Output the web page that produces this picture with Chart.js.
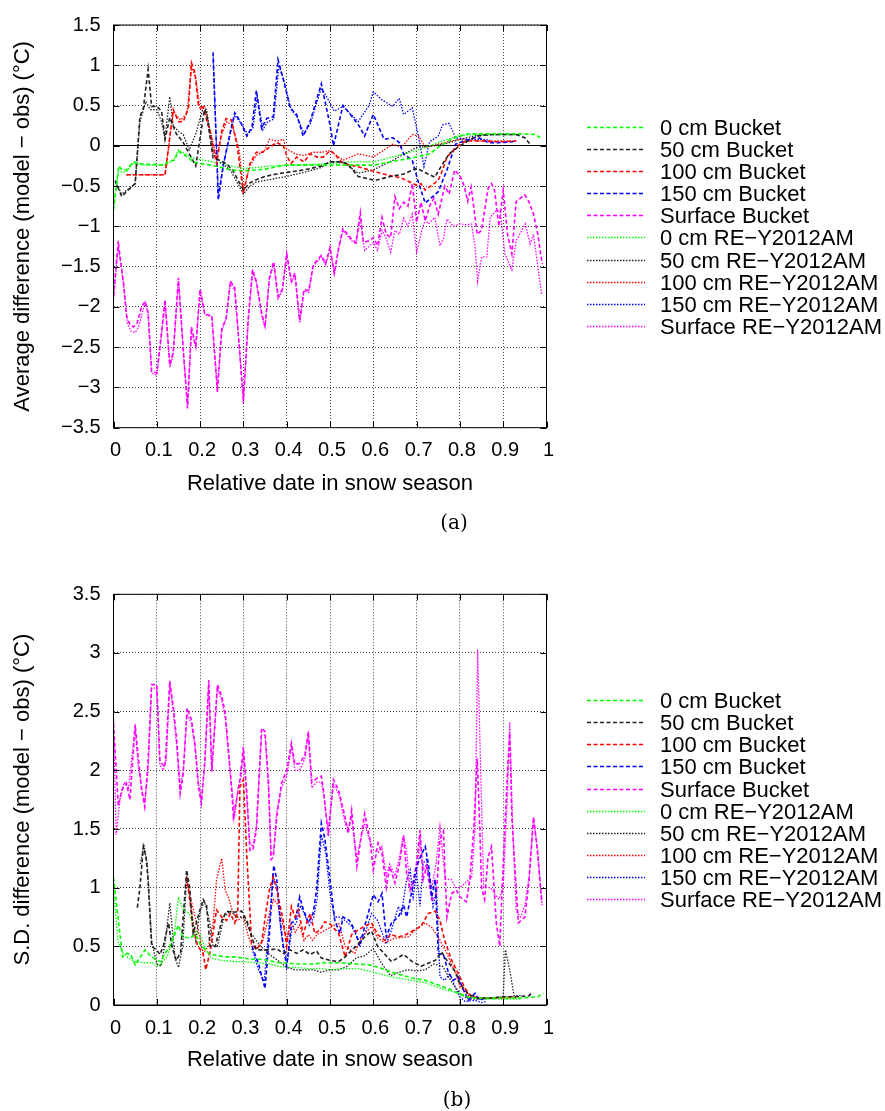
<!DOCTYPE html>
<html><head><meta charset="utf-8">
<script src="https://cdn.jsdelivr.net/npm/chart.js@4.4.0/dist/chart.umd.min.js"></script>
<style>
body{margin:0;width:885px;height:1111px;position:relative;background:#fff;overflow:hidden}
canvas{position:absolute;left:0}
#c1{top:0}
#c2{top:540px}
.cap{position:absolute;font-family:"DejaVu Serif","Liberation Serif",serif;font-size:20px;transform:translate(-50%,-50%);color:#000}
</style></head><body>
<canvas id="c1" width="885" height="540" style="width:885px;height:540px"></canvas>
<canvas id="c2" width="885" height="571" style="width:885px;height:571px"></canvas>
<div class="cap" style="left:454px;top:522px">(a)</div>
<div class="cap" style="left:457px;top:1099px">(b)</div>
<script>
// ---------- labels / axes ----------
const SERIES_LABELS = ['0 cm Bucket','50 cm Bucket','100 cm Bucket','150 cm Bucket','Surface Bucket',
  '0 cm RE\u2212Y2012AM','50 cm RE\u2212Y2012AM','100 cm RE\u2212Y2012AM','150 cm RE\u2212Y2012AM','Surface RE\u2212Y2012AM'];
const X_TITLE = 'Relative date in snow season';
const A_Y_TITLE = 'Average difference (model \u2212 obs) (\u00B0C)';
const B_Y_TITLE = 'S.D. difference (model \u2212 obs) (\u00B0C)';
const X_RANGE = [0, 1, 0.1];
const A_Y_RANGE = [-3.5, 1.5, 0.5];
const B_Y_RANGE = [0, 3.5, 0.5];

// ---------- panel (a): average difference ----------
const a_g0B = [[0,-0.8],[0.012,-0.25],[0.02,-0.3],[0.03,-0.3],[0.045,-0.2],[0.07,-0.23],[0.1,-0.23],[0.115,-0.24],[0.127,-0.19],[0.14,-0.18],[0.15,-0.07],[0.16,-0.1],[0.17,-0.14],[0.185,-0.2],[0.2,-0.22],[0.225,-0.24],[0.25,-0.27],[0.27,-0.3],[0.3,-0.31],[0.33,-0.3],[0.35,-0.29],[0.377,-0.26],[0.4,-0.24],[0.44,-0.24],[0.48,-0.24],[0.52,-0.24],[0.56,-0.24],[0.6,-0.24],[0.64,-0.2],[0.7,-0.14],[0.73,-0.1],[0.755,0],[0.78,0.08],[0.8,0.12],[0.82,0.15],[0.86,0.15],[0.9,0.15],[0.94,0.15],[0.975,0.14],[0.985,0.1]];
const a_k50B = [[0.004,-0.43],[0.019,-0.63],[0.03,-0.57],[0.05,-0.47],[0.061,0.36],[0.069,0.47],[0.08,0.95],[0.088,0.49],[0.1,0.49],[0.111,0.43],[0.119,0.08],[0.13,0.35],[0.145,0.15],[0.16,0.05],[0.175,-0.1],[0.19,-0.25],[0.2,0.1],[0.21,0.45],[0.215,0.4],[0.23,-0.15],[0.245,-0.18],[0.26,-0.22],[0.275,-0.3],[0.3,-0.55],[0.315,-0.46],[0.33,-0.42],[0.35,-0.38],[0.377,-0.35],[0.4,-0.33],[0.44,-0.3],[0.48,-0.25],[0.5,-0.2],[0.52,-0.2],[0.54,-0.22],[0.565,-0.38],[0.604,-0.43],[0.64,-0.38],[0.67,-0.35],[0.7,-0.28],[0.742,-0.39],[0.755,-0.27],[0.775,-0.1],[0.8,0],[0.838,0.12],[0.87,0.14],[0.93,0.14],[0.95,0.1],[0.965,0.0]];
const a_r100B = [[0.03,-0.36],[0.06,-0.36],[0.09,-0.36],[0.119,-0.36],[0.138,0.45],[0.15,0.3],[0.161,0.3],[0.173,0.47],[0.18,1.03],[0.188,0.91],[0.196,0.51],[0.207,0.47],[0.223,0.18],[0.238,-0.22],[0.25,0.18],[0.26,0.34],[0.272,0.32],[0.285,0.02],[0.3,-0.59],[0.315,-0.22],[0.33,-0.08],[0.345,-0.08],[0.36,-0.02],[0.377,0.04],[0.392,0.0],[0.4,-0.12],[0.41,-0.22],[0.423,-0.14],[0.44,-0.2],[0.454,-0.1],[0.47,-0.14],[0.485,-0.14],[0.5,-0.06],[0.51,-0.1],[0.53,-0.22],[0.565,-0.26],[0.59,-0.3],[0.63,-0.36],[0.665,-0.4],[0.7,-0.49],[0.71,-0.47],[0.72,-0.55],[0.75,-0.43],[0.76,-0.3],[0.77,-0.14],[0.8,0.02],[0.815,0.06],[0.85,0.06],[0.88,0.05],[0.9,0.05],[0.93,0.06]];
const a_b150B = [[0.23,1.16],[0.242,-0.67],[0.253,-0.26],[0.27,0.18],[0.28,0.41],[0.293,0.3],[0.308,0.12],[0.32,0.24],[0.33,0.69],[0.342,0.22],[0.354,0.34],[0.369,0.36],[0.38,1.07],[0.392,0.83],[0.408,0.47],[0.423,0.39],[0.438,0.12],[0.454,0.3],[0.48,0.77],[0.5,0.26],[0.508,0.0],[0.53,0.5],[0.55,0.37],[0.568,0.24],[0.58,0.12],[0.6,0.39],[0.625,0.08],[0.645,0.1],[0.66,0.04],[0.67,-0.1],[0.69,-0.18],[0.705,-0.47],[0.72,-0.71],[0.75,-0.57],[0.77,-0.3],[0.79,0.02],[0.81,0.06],[0.84,0.11],[0.865,0.04],[0.89,0.04],[0.92,0.05],[0.93,0.06]];
const a_mSB = [[0,-1.87],[0.011,-1.18],[0.016,-1.42],[0.023,-1.7],[0.03,-2.11],[0.038,-2.22],[0.046,-2.25],[0.054,-2.21],[0.065,-2.0],[0.073,-1.93],[0.08,-2.07],[0.088,-2.8],[0.1,-2.82],[0.111,-2.31],[0.119,-1.91],[0.13,-2.72],[0.138,-2.56],[0.15,-1.64],[0.161,-2.52],[0.171,-3.26],[0.18,-2.25],[0.19,-2.49],[0.2,-1.78],[0.211,-2.09],[0.227,-2.11],[0.24,-3.06],[0.25,-2.27],[0.26,-2.15],[0.27,-1.68],[0.28,-1.76],[0.292,-2.6],[0.3,-3.16],[0.311,-2.15],[0.321,-1.54],[0.33,-1.68],[0.342,-2.07],[0.35,-2.25],[0.36,-1.64],[0.37,-1.44],[0.38,-1.87],[0.39,-1.78],[0.4,-1.34],[0.411,-1.68],[0.419,-1.58],[0.43,-2.17],[0.44,-1.78],[0.451,-1.8],[0.461,-1.48],[0.48,-1.36],[0.49,-1.46],[0.5,-1.26],[0.51,-1.58],[0.52,-1.26],[0.53,-1.03],[0.55,-1.16],[0.56,-1.2],[0.57,-0.83],[0.577,-1.2],[0.59,-1.18],[0.6,-1.14],[0.61,-1.24],[0.62,-0.89],[0.63,-1.1],[0.64,-1.14],[0.65,-0.63],[0.66,-0.78],[0.67,-0.7],[0.68,-0.75],[0.69,-0.47],[0.7,-0.95],[0.71,-0.7],[0.72,-0.93],[0.73,-0.75],[0.74,-0.65],[0.75,-0.85],[0.765,-0.5],[0.775,-0.6],[0.788,-0.3],[0.8,-0.37],[0.81,-0.5],[0.818,-0.69],[0.826,-0.51],[0.84,-1.1],[0.85,-1.05],[0.865,-0.53],[0.873,-0.47],[0.88,-0.55],[0.89,-1.0],[0.9,-0.55],[0.91,-1.1],[0.92,-1.34],[0.93,-0.69],[0.95,-0.61],[0.96,-0.7],[0.97,-0.85],[0.98,-1.1],[0.99,-1.47]];
const a_g0R = [[0,-0.75],[0.012,-0.3],[0.02,-0.33],[0.03,-0.32],[0.045,-0.22],[0.07,-0.24],[0.1,-0.24],[0.12,-0.24],[0.14,-0.17],[0.15,-0.05],[0.16,-0.08],[0.18,-0.15],[0.2,-0.17],[0.23,-0.2],[0.25,-0.22],[0.27,-0.25],[0.3,-0.28],[0.33,-0.27],[0.36,-0.25],[0.4,-0.24],[0.45,-0.23],[0.5,-0.22],[0.55,-0.2],[0.6,-0.2],[0.65,-0.13],[0.7,-0.06],[0.73,0.0],[0.76,0.06],[0.8,0.13],[0.84,0.14],[0.9,0.14],[0.94,0.14]];
const a_k50R = [[0.004,-0.45],[0.019,-0.6],[0.038,-0.52],[0.05,-0.47],[0.061,0.3],[0.075,0.55],[0.085,0.45],[0.1,0.45],[0.111,0.3],[0.119,0.1],[0.13,0.61],[0.138,0.25],[0.15,0.18],[0.161,0.14],[0.175,-0.05],[0.19,0.15],[0.207,0.47],[0.215,0.45],[0.23,-0.1],[0.25,-0.22],[0.27,-0.3],[0.3,-0.6],[0.315,-0.5],[0.33,-0.45],[0.36,-0.42],[0.4,-0.38],[0.44,-0.33],[0.48,-0.27],[0.5,-0.2],[0.53,-0.2],[0.565,-0.34],[0.6,-0.3],[0.645,-0.18],[0.7,-0.02],[0.74,0.0],[0.77,0.03],[0.8,0.08],[0.84,0.13],[0.9,0.14],[0.94,0.14]];
const a_r100R = [[0.03,-0.36],[0.119,-0.36],[0.138,0.42],[0.155,0.32],[0.17,0.4],[0.18,0.98],[0.19,0.85],[0.2,0.45],[0.21,0.5],[0.225,0.15],[0.238,-0.15],[0.25,0.15],[0.262,0.3],[0.275,0.25],[0.29,-0.05],[0.3,-0.55],[0.315,-0.25],[0.33,-0.12],[0.35,-0.05],[0.36,0.08],[0.377,0.06],[0.392,0.08],[0.4,-0.04],[0.42,-0.1],[0.44,-0.12],[0.46,-0.08],[0.48,-0.08],[0.5,-0.06],[0.53,-0.18],[0.565,-0.1],[0.6,-0.14],[0.645,0.02],[0.665,-0.02],[0.69,0.14],[0.705,0.12],[0.72,-0.02],[0.75,0.02],[0.78,0.06],[0.8,0.08],[0.85,0.06],[0.9,0.06],[0.93,0.06]];
const a_b150R = [[0.23,1.1],[0.242,-0.6],[0.255,-0.2],[0.27,0.15],[0.28,0.38],[0.295,0.28],[0.31,0.14],[0.322,0.22],[0.332,0.62],[0.345,0.2],[0.356,0.3],[0.37,0.33],[0.382,1.0],[0.395,0.78],[0.41,0.45],[0.425,0.35],[0.44,0.15],[0.455,0.28],[0.48,0.72],[0.49,0.63],[0.51,0.43],[0.53,0.49],[0.565,0.3],[0.59,0.5],[0.6,0.67],[0.62,0.57],[0.645,0.49],[0.66,0.59],[0.67,0.39],[0.69,0.47],[0.705,0.1],[0.717,-0.26],[0.73,0.05],[0.75,0.12],[0.76,0.26],[0.775,0.28],[0.79,0.1],[0.82,0.08],[0.85,0.08],[0.87,0.07]];
const a_mSR = [[0,-1.9],[0.011,-1.25],[0.018,-1.5],[0.025,-1.8],[0.032,-2.2],[0.04,-2.3],[0.05,-2.32],[0.058,-2.25],[0.073,-1.95],[0.08,-2.1],[0.088,-2.82],[0.1,-2.85],[0.111,-2.35],[0.119,-1.95],[0.13,-2.75],[0.138,-2.6],[0.15,-1.67],[0.161,-2.55],[0.171,-3.22],[0.18,-2.3],[0.19,-2.5],[0.2,-1.8],[0.211,-2.1],[0.227,-2.12],[0.24,-3.0],[0.25,-2.3],[0.26,-2.15],[0.27,-1.7],[0.28,-1.8],[0.292,-2.6],[0.3,-3.2],[0.311,-2.2],[0.321,-1.56],[0.33,-1.7],[0.342,-2.1],[0.35,-2.25],[0.36,-1.66],[0.37,-1.46],[0.38,-1.9],[0.39,-1.8],[0.4,-1.36],[0.411,-1.7],[0.419,-1.6],[0.43,-2.2],[0.44,-1.8],[0.451,-1.82],[0.461,-1.5],[0.48,-1.38],[0.49,-1.48],[0.5,-1.28],[0.51,-1.6],[0.52,-1.28],[0.53,-1.05],[0.55,-1.18],[0.56,-1.22],[0.57,-0.9],[0.58,-1.3],[0.6,-1.2],[0.61,-1.3],[0.62,-1.05],[0.63,-1.15],[0.64,-1.32],[0.65,-1.05],[0.66,-1.1],[0.67,-0.9],[0.68,-1.0],[0.69,-0.85],[0.7,-1.32],[0.712,-1.05],[0.72,-0.92],[0.727,-0.97],[0.742,-0.89],[0.754,-1.24],[0.762,-1.15],[0.77,-0.91],[0.785,-1.0],[0.8,-0.97],[0.815,-0.98],[0.827,-0.97],[0.835,-1.26],[0.841,-1.68],[0.85,-1.38],[0.862,-1.38],[0.87,-0.89],[0.882,-0.81],[0.893,-0.81],[0.904,-1.34],[0.92,-1.54],[0.93,-1.18],[0.951,-0.97],[0.962,-1.22],[0.97,-1.1],[0.981,-1.54],[0.989,-1.85]];

// ---------- panel (b): S.D. difference ----------
const b_g0B = [[0,1.09],[0.011,0.73],[0.021,0.41],[0.03,0.44],[0.04,0.43],[0.05,0.34],[0.06,0.4],[0.073,0.47],[0.085,0.42],[0.1,0.38],[0.11,0.37],[0.119,0.44],[0.13,0.5],[0.15,0.68],[0.16,0.58],[0.175,0.57],[0.19,0.6],[0.2,0.52],[0.22,0.44],[0.24,0.42],[0.26,0.41],[0.28,0.41],[0.3,0.4],[0.32,0.39],[0.34,0.39],[0.36,0.38],[0.38,0.36],[0.4,0.36],[0.42,0.35],[0.44,0.35],[0.46,0.35],[0.488,0.36],[0.52,0.36],[0.56,0.35],[0.596,0.34],[0.62,0.31],[0.642,0.28],[0.69,0.23],[0.72,0.21],[0.75,0.17],[0.78,0.13],[0.8,0.09],[0.827,0.06],[0.86,0.06],[0.9,0.06],[0.94,0.06],[0.98,0.07],[0.993,0.1]];
const b_k50B = [[0.055,0.83],[0.061,1.0],[0.069,1.35],[0.075,1.26],[0.08,1.06],[0.088,0.5],[0.1,0.47],[0.107,0.43],[0.115,0.5],[0.127,0.7],[0.135,0.5],[0.145,0.38],[0.155,0.45],[0.169,1.15],[0.176,1.0],[0.184,0.61],[0.195,0.75],[0.207,0.9],[0.215,0.85],[0.223,0.5],[0.235,0.5],[0.25,0.72],[0.261,0.8],[0.275,0.79],[0.296,0.8],[0.308,0.72],[0.319,0.58],[0.33,0.47],[0.345,0.47],[0.361,0.47],[0.377,0.48],[0.392,0.44],[0.408,0.47],[0.423,0.44],[0.438,0.47],[0.454,0.43],[0.469,0.46],[0.48,0.4],[0.5,0.38],[0.52,0.37],[0.535,0.41],[0.56,0.5],[0.58,0.58],[0.596,0.63],[0.61,0.5],[0.642,0.37],[0.67,0.43],[0.69,0.37],[0.71,0.33],[0.743,0.38],[0.758,0.45],[0.77,0.38],[0.79,0.28],[0.8,0.18],[0.82,0.09],[0.84,0.06],[0.87,0.06],[0.9,0.07],[0.93,0.07],[0.96,0.08],[0.965,0.1]];
const b_r100B = [[0.169,1.09],[0.176,0.9],[0.184,0.65],[0.195,0.5],[0.207,0.44],[0.213,0.3],[0.223,0.45],[0.238,0.81],[0.25,0.75],[0.261,0.72],[0.27,0.78],[0.28,0.7],[0.287,0.8],[0.292,1.86],[0.3,1.92],[0.308,1.26],[0.319,0.53],[0.33,0.47],[0.342,0.53],[0.354,0.84],[0.361,1.0],[0.369,1.09],[0.377,0.98],[0.392,0.72],[0.4,0.5],[0.411,0.84],[0.419,0.75],[0.427,0.81],[0.438,0.6],[0.446,0.7],[0.454,0.78],[0.465,0.61],[0.477,0.64],[0.488,0.71],[0.5,0.69],[0.52,0.61],[0.535,0.41],[0.55,0.6],[0.565,0.64],[0.58,0.67],[0.596,0.7],[0.61,0.6],[0.627,0.55],[0.64,0.6],[0.658,0.58],[0.675,0.6],[0.69,0.63],[0.71,0.67],[0.727,0.78],[0.743,0.8],[0.754,0.72],[0.765,0.55],[0.781,0.38],[0.796,0.27],[0.812,0.14],[0.827,0.07],[0.85,0.06],[0.873,0.06],[0.9,0.06],[0.92,0.07],[0.93,0.06]];
const b_b150B = [[0.32,0.5],[0.335,0.35],[0.35,0.14],[0.36,0.6],[0.37,1.19],[0.377,1.07],[0.385,0.72],[0.392,0.5],[0.4,0.33],[0.411,0.7],[0.42,0.72],[0.43,0.92],[0.438,0.82],[0.45,0.7],[0.461,0.78],[0.469,0.98],[0.48,1.55],[0.488,1.42],[0.5,1.07],[0.511,0.72],[0.523,0.61],[0.53,0.75],[0.545,0.72],[0.557,0.64],[0.569,0.5],[0.58,0.67],[0.6,0.94],[0.611,0.88],[0.62,0.95],[0.63,0.58],[0.642,0.7],[0.658,0.75],[0.67,0.85],[0.677,0.75],[0.688,0.95],[0.7,1.18],[0.712,1.29],[0.72,1.35],[0.728,1.18],[0.735,0.92],[0.743,1.07],[0.75,0.44],[0.762,0.43],[0.774,0.27],[0.785,0.21],[0.796,0.24],[0.808,0.13],[0.82,0.04],[0.835,0.1],[0.845,0.04],[0.858,0.06]];
const b_mSB = [[0,2.4],[0.011,1.7],[0.019,1.83],[0.03,1.89],[0.038,1.75],[0.05,2.39],[0.057,2.12],[0.065,1.83],[0.072,1.69],[0.08,2.09],[0.088,2.73],[0.1,2.73],[0.107,2.09],[0.111,2.06],[0.119,2.03],[0.13,2.76],[0.138,2.54],[0.146,2.26],[0.154,1.8],[0.161,1.97],[0.17,2.53],[0.18,2.43],[0.188,2.23],[0.196,1.86],[0.203,1.72],[0.211,2.09],[0.22,2.77],[0.227,1.99],[0.24,2.73],[0.25,2.63],[0.258,2.49],[0.265,2.2],[0.273,1.83],[0.277,1.6],[0.288,1.83],[0.292,1.92],[0.3,2.2],[0.308,1.8],[0.315,1.32],[0.322,1.32],[0.33,1.49],[0.342,2.36],[0.35,2.33],[0.358,1.9],[0.364,1.24],[0.369,1.26],[0.377,1.6],[0.388,1.89],[0.4,2.0],[0.411,2.23],[0.419,2.05],[0.43,2.06],[0.442,2.13],[0.45,2.33],[0.458,1.9],[0.469,1.93],[0.48,1.95],[0.485,1.83],[0.496,1.44],[0.5,1.6],[0.508,1.92],[0.52,1.83],[0.535,1.6],[0.542,1.46],[0.55,1.66],[0.562,1.18],[0.573,1.46],[0.58,1.63],[0.592,1.42],[0.6,1.15],[0.611,1.38],[0.62,1.3],[0.63,1.0],[0.638,1.18],[0.65,1.04],[0.66,1.19],[0.67,1.44],[0.677,1.12],[0.685,0.98],[0.692,1.05],[0.7,1.21],[0.708,1.49],[0.715,1.07],[0.723,1.18],[0.735,0.9],[0.745,0.92],[0.754,1.41],[0.762,1.48],[0.77,0.75],[0.781,0.95],[0.792,0.98],[0.8,0.92],[0.815,0.88],[0.823,1.07],[0.832,1.5],[0.84,2.1],[0.846,1.5],[0.85,1.0],[0.857,0.9],[0.865,1.26],[0.873,1.35],[0.884,0.7],[0.892,0.5],[0.9,1.2],[0.91,2.0],[0.915,2.32],[0.92,1.6],[0.935,0.7],[0.95,0.75],[0.96,1.07],[0.97,1.6],[0.978,1.35],[0.989,0.87]];
const b_g0R = [[0,1.0],[0.01,0.55],[0.02,0.45],[0.035,0.4],[0.05,0.37],[0.07,0.36],[0.09,0.36],[0.1,0.33],[0.11,0.35],[0.125,0.42],[0.14,0.6],[0.15,0.92],[0.16,0.82],[0.175,0.78],[0.19,0.62],[0.2,0.6],[0.21,0.5],[0.225,0.4],[0.25,0.38],[0.28,0.37],[0.3,0.37],[0.33,0.36],[0.36,0.35],[0.38,0.33],[0.4,0.32],[0.42,0.32],[0.45,0.31],[0.48,0.31],[0.5,0.3],[0.53,0.31],[0.565,0.31],[0.6,0.28],[0.642,0.24],[0.69,0.21],[0.72,0.19],[0.765,0.13],[0.8,0.1],[0.82,0.07],[0.858,0.05],[0.9,0.05],[0.94,0.05]];
const b_k50R = [[0.062,1.2],[0.07,1.37],[0.078,1.2],[0.088,0.55],[0.1,0.35],[0.11,0.33],[0.12,0.55],[0.13,0.87],[0.142,0.4],[0.15,0.32],[0.16,0.5],[0.169,1.1],[0.18,0.8],[0.19,0.55],[0.2,0.8],[0.21,0.88],[0.22,0.75],[0.23,0.5],[0.24,0.5],[0.255,0.75],[0.27,0.8],[0.285,0.75],[0.3,0.75],[0.32,0.6],[0.34,0.5],[0.36,0.43],[0.38,0.38],[0.4,0.32],[0.42,0.3],[0.44,0.3],[0.46,0.3],[0.48,0.28],[0.5,0.3],[0.52,0.3],[0.54,0.33],[0.56,0.4],[0.58,0.42],[0.6,0.48],[0.62,0.35],[0.64,0.25],[0.66,0.28],[0.68,0.3],[0.7,0.29],[0.72,0.3],[0.74,0.35],[0.76,0.33],[0.78,0.2],[0.8,0.1],[0.82,0.05],[0.85,0.05],[0.88,0.06],[0.9,0.07],[0.905,0.47],[0.915,0.3],[0.925,0.08],[0.94,0.08]];
const b_r100R = [[0.169,1.07],[0.18,0.88],[0.192,0.7],[0.207,0.44],[0.219,0.5],[0.23,0.7],[0.238,1.07],[0.25,1.25],[0.258,0.98],[0.265,0.92],[0.273,0.82],[0.285,0.72],[0.3,0.75],[0.31,0.6],[0.32,0.5],[0.33,0.48],[0.345,0.55],[0.36,0.78],[0.37,0.9],[0.38,0.85],[0.39,0.7],[0.4,0.55],[0.41,0.7],[0.42,0.62],[0.43,0.68],[0.44,0.55],[0.45,0.6],[0.46,0.55],[0.47,0.6],[0.48,0.62],[0.5,0.66],[0.52,0.7],[0.535,0.5],[0.557,0.44],[0.573,0.58],[0.596,0.67],[0.61,0.57],[0.627,0.53],[0.65,0.57],[0.68,0.58],[0.7,0.65],[0.72,0.7],[0.735,0.66],[0.75,0.58],[0.77,0.44],[0.79,0.27],[0.8,0.16],[0.82,0.08],[0.85,0.06],[0.88,0.06],[0.92,0.06]];
const b_b150R = [[0.32,0.48],[0.335,0.3],[0.348,0.2],[0.36,0.7],[0.368,1.1],[0.378,1.0],[0.386,0.65],[0.395,0.45],[0.402,0.38],[0.412,0.65],[0.422,0.7],[0.432,0.85],[0.44,0.78],[0.452,0.68],[0.462,0.74],[0.47,0.9],[0.48,1.45],[0.49,1.3],[0.5,0.95],[0.51,0.75],[0.52,0.75],[0.535,0.72],[0.55,0.67],[0.565,0.56],[0.58,0.6],[0.596,0.78],[0.61,0.72],[0.63,0.52],[0.642,0.64],[0.658,0.84],[0.665,0.78],[0.677,1.07],[0.685,1.15],[0.692,0.92],[0.7,1.12],[0.708,0.84],[0.715,1.21],[0.723,1.24],[0.73,1.07],[0.738,0.84],[0.746,0.98],[0.754,0.24],[0.765,0.21],[0.777,0.27],[0.788,0.16],[0.8,0.07],[0.812,0.03],[0.835,0.04],[0.85,0.02],[0.86,0.03]];
const b_mSR = [[0,2.45],[0.006,1.45],[0.015,1.75],[0.025,1.9],[0.035,1.85],[0.045,2.2],[0.05,2.35],[0.057,2.05],[0.065,1.85],[0.072,1.72],[0.08,2.0],[0.088,2.7],[0.1,2.7],[0.107,2.05],[0.115,2.0],[0.122,2.1],[0.13,2.73],[0.138,2.5],[0.146,2.2],[0.154,1.85],[0.161,2.0],[0.17,2.48],[0.18,2.4],[0.188,2.2],[0.196,1.9],[0.203,1.75],[0.211,2.05],[0.22,2.73],[0.227,2.0],[0.24,2.7],[0.25,2.6],[0.258,2.45],[0.265,2.15],[0.273,1.85],[0.28,1.62],[0.288,1.85],[0.295,1.95],[0.3,2.15],[0.308,1.75],[0.315,1.38],[0.322,1.35],[0.33,1.52],[0.342,2.3],[0.35,2.3],[0.358,1.85],[0.364,1.28],[0.37,1.3],[0.377,1.65],[0.388,1.85],[0.4,1.95],[0.411,2.2],[0.419,2.0],[0.43,2.0],[0.442,2.1],[0.45,2.3],[0.458,1.85],[0.469,1.9],[0.48,1.9],[0.485,1.8],[0.496,1.48],[0.5,1.62],[0.508,1.88],[0.52,1.8],[0.535,1.55],[0.542,1.5],[0.55,1.6],[0.562,1.25],[0.573,1.45],[0.58,1.55],[0.592,1.4],[0.6,1.32],[0.611,1.3],[0.62,1.35],[0.63,1.1],[0.638,1.2],[0.65,1.1],[0.66,1.25],[0.67,1.45],[0.677,1.3],[0.685,1.0],[0.692,1.0],[0.7,1.1],[0.708,1.42],[0.715,1.15],[0.723,1.2],[0.735,1.0],[0.745,1.2],[0.754,1.52],[0.766,1.07],[0.78,1.07],[0.79,1.0],[0.8,1.0],[0.815,1.05],[0.827,1.08],[0.835,1.5],[0.841,3.03],[0.848,2.0],[0.855,1.0],[0.87,1.0],[0.88,0.95],[0.89,0.9],[0.9,1.0],[0.91,1.8],[0.915,2.41],[0.922,1.5],[0.93,0.8],[0.94,0.75],[0.95,0.85],[0.96,1.1],[0.97,1.6],[0.98,1.3],[0.99,0.85]];

// ---------- styling & chart construction ----------
const COLORS = ['#00ff00','#222222','#ff0000','#0000ff','#ff00ff'];
const FONT = '"Liberation Sans", Arial, Helvetica, sans-serif';
Chart.defaults.font.family = FONT;
Chart.defaults.color = '#000';

function fmt(v){ return (Math.round(v*10)/10).toString().replace('-', '\u2212'); }

function makeDatasets(list){
  return list.map((pairs, i) => {
    const dotted = i >= 5;
    return {
      label: SERIES_LABELS[i],
      data: pairs.map(p => ({x: p[0], y: p[1]})),
      borderColor: COLORS[i % 5],
      borderWidth: dotted ? 1.3 : 1.6,
      borderDash: dotted ? [1.5, 1.5] : [4, 2.5],
      pointRadius: 0, tension: 0, fill: false
    };
  });
}

const framePlugin = {
  id: 'frame',
  afterDatasetsDraw(chart){
    const {ctx, chartArea: a, scales} = chart;
    ctx.save();
    ctx.strokeStyle = '#000'; ctx.lineWidth = 1; ctx.setLineDash([]);
    ctx.strokeRect(a.left, a.top, a.right - a.left, a.bottom - a.top);
    const L = 6;
    ctx.beginPath();
    scales.x.ticks.forEach(t => {
      const px = Math.round(scales.x.getPixelForValue(t.value)) + 0.5;
      ctx.moveTo(px, a.bottom); ctx.lineTo(px, a.bottom - L);
      ctx.moveTo(px, a.top); ctx.lineTo(px, a.top + L);
    });
    scales.y.ticks.forEach(t => {
      const py = Math.round(scales.y.getPixelForValue(t.value)) + 0.5;
      ctx.moveTo(a.left, py); ctx.lineTo(a.left + L, py);
      ctx.moveTo(a.right, py); ctx.lineTo(a.right - L, py);
    });
    ctx.stroke();
    ctx.restore();
  }
};

const legendPlugin = {
  id: 'sideLegend',
  afterDraw(chart){
    const {ctx, chartArea: a} = chart;
    const ds = chart.data.datasets, n = ds.length, gap = 22.1;
    const cy = (a.top + a.bottom) / 2;
    ctx.save();
    ctx.font = '22px ' + FONT;
    ctx.textBaseline = 'middle';
    ds.forEach((d, i) => {
      const y = Math.round(cy + (i - (n - 1) / 2) * gap) + 0.5;
      ctx.beginPath();
      ctx.setLineDash(d.borderDash);
      ctx.strokeStyle = d.borderColor;
      ctx.lineWidth = d.borderWidth;
      ctx.moveTo(587, y); ctx.lineTo(645, y);
      ctx.stroke();
      ctx.setLineDash([]);
      ctx.fillStyle = '#000';
      ctx.fillText(d.label, 660, y + 1);
    });
    ctx.restore();
  }
};

function makeChart(id, list, yr, yTitle, plotTop, plotBottom, H, xTitleY){
  const isZero = c => c.tick && Math.abs(c.tick.value) < 1e-9;
  return new Chart(document.getElementById(id), {
    type: 'line',
    data: { datasets: makeDatasets(list) },
    options: {
      responsive: false, animation: false, events: [],
      layout: { padding: { left: 0, right: 885 - 546.5, top: plotTop, bottom: 0 } },
      plugins: { legend: { display: false }, tooltip: { enabled: false } },
      scales: {
        x: {
          type: 'linear', min: X_RANGE[0], max: X_RANGE[1],
          ticks: { stepSize: X_RANGE[2], autoSkip: false, maxRotation: 0, font: { size: 20 }, padding: 11, labelOffset: 2, callback: v => fmt(v) },
          grid: { color: '#444', lineWidth: 1, drawTicks: false },
          border: { display: false, dash: [1, 2] },
          title: { display: true, text: X_TITLE, font: { size: 22 }, padding: { top: 0, bottom: (H - xTitleY) - 13.2 } },
          afterFit: s => { s.height = H - plotBottom; }
        },
        y: {
          type: 'linear', min: yr[0], max: yr[1],
          ticks: { stepSize: yr[2], autoSkip: false, font: { size: 20 }, padding: 13, callback: v => fmt(v) },
          grid: { color: c => isZero(c) ? '#000' : '#444', lineWidth: 1, drawTicks: false },
          border: { display: false, dash: c => isZero(c) ? [] : [1, 2] },
          title: { display: true, text: yTitle, font: { size: 22 }, padding: { top: 9.3, bottom: 0 } },
          afterFit: s => { s.width = 113.5; }
        }
      }
    },
    plugins: [framePlugin, legendPlugin]
  });
}

makeChart('c1', [a_g0B, a_k50B, a_r100B, a_b150B, a_mSB, a_g0R, a_k50R, a_r100R, a_b150R, a_mSR],
  A_Y_RANGE, A_Y_TITLE, 16.7, 427.7, 540, 484);
makeChart('c2', [b_g0B, b_k50B, b_r100B, b_b150B, b_mSB, b_g0R, b_k50R, b_r100R, b_b150R, b_mSR],
  B_Y_RANGE, B_Y_TITLE, 54.3, 465, 571, 520);
</script>
</body></html>
